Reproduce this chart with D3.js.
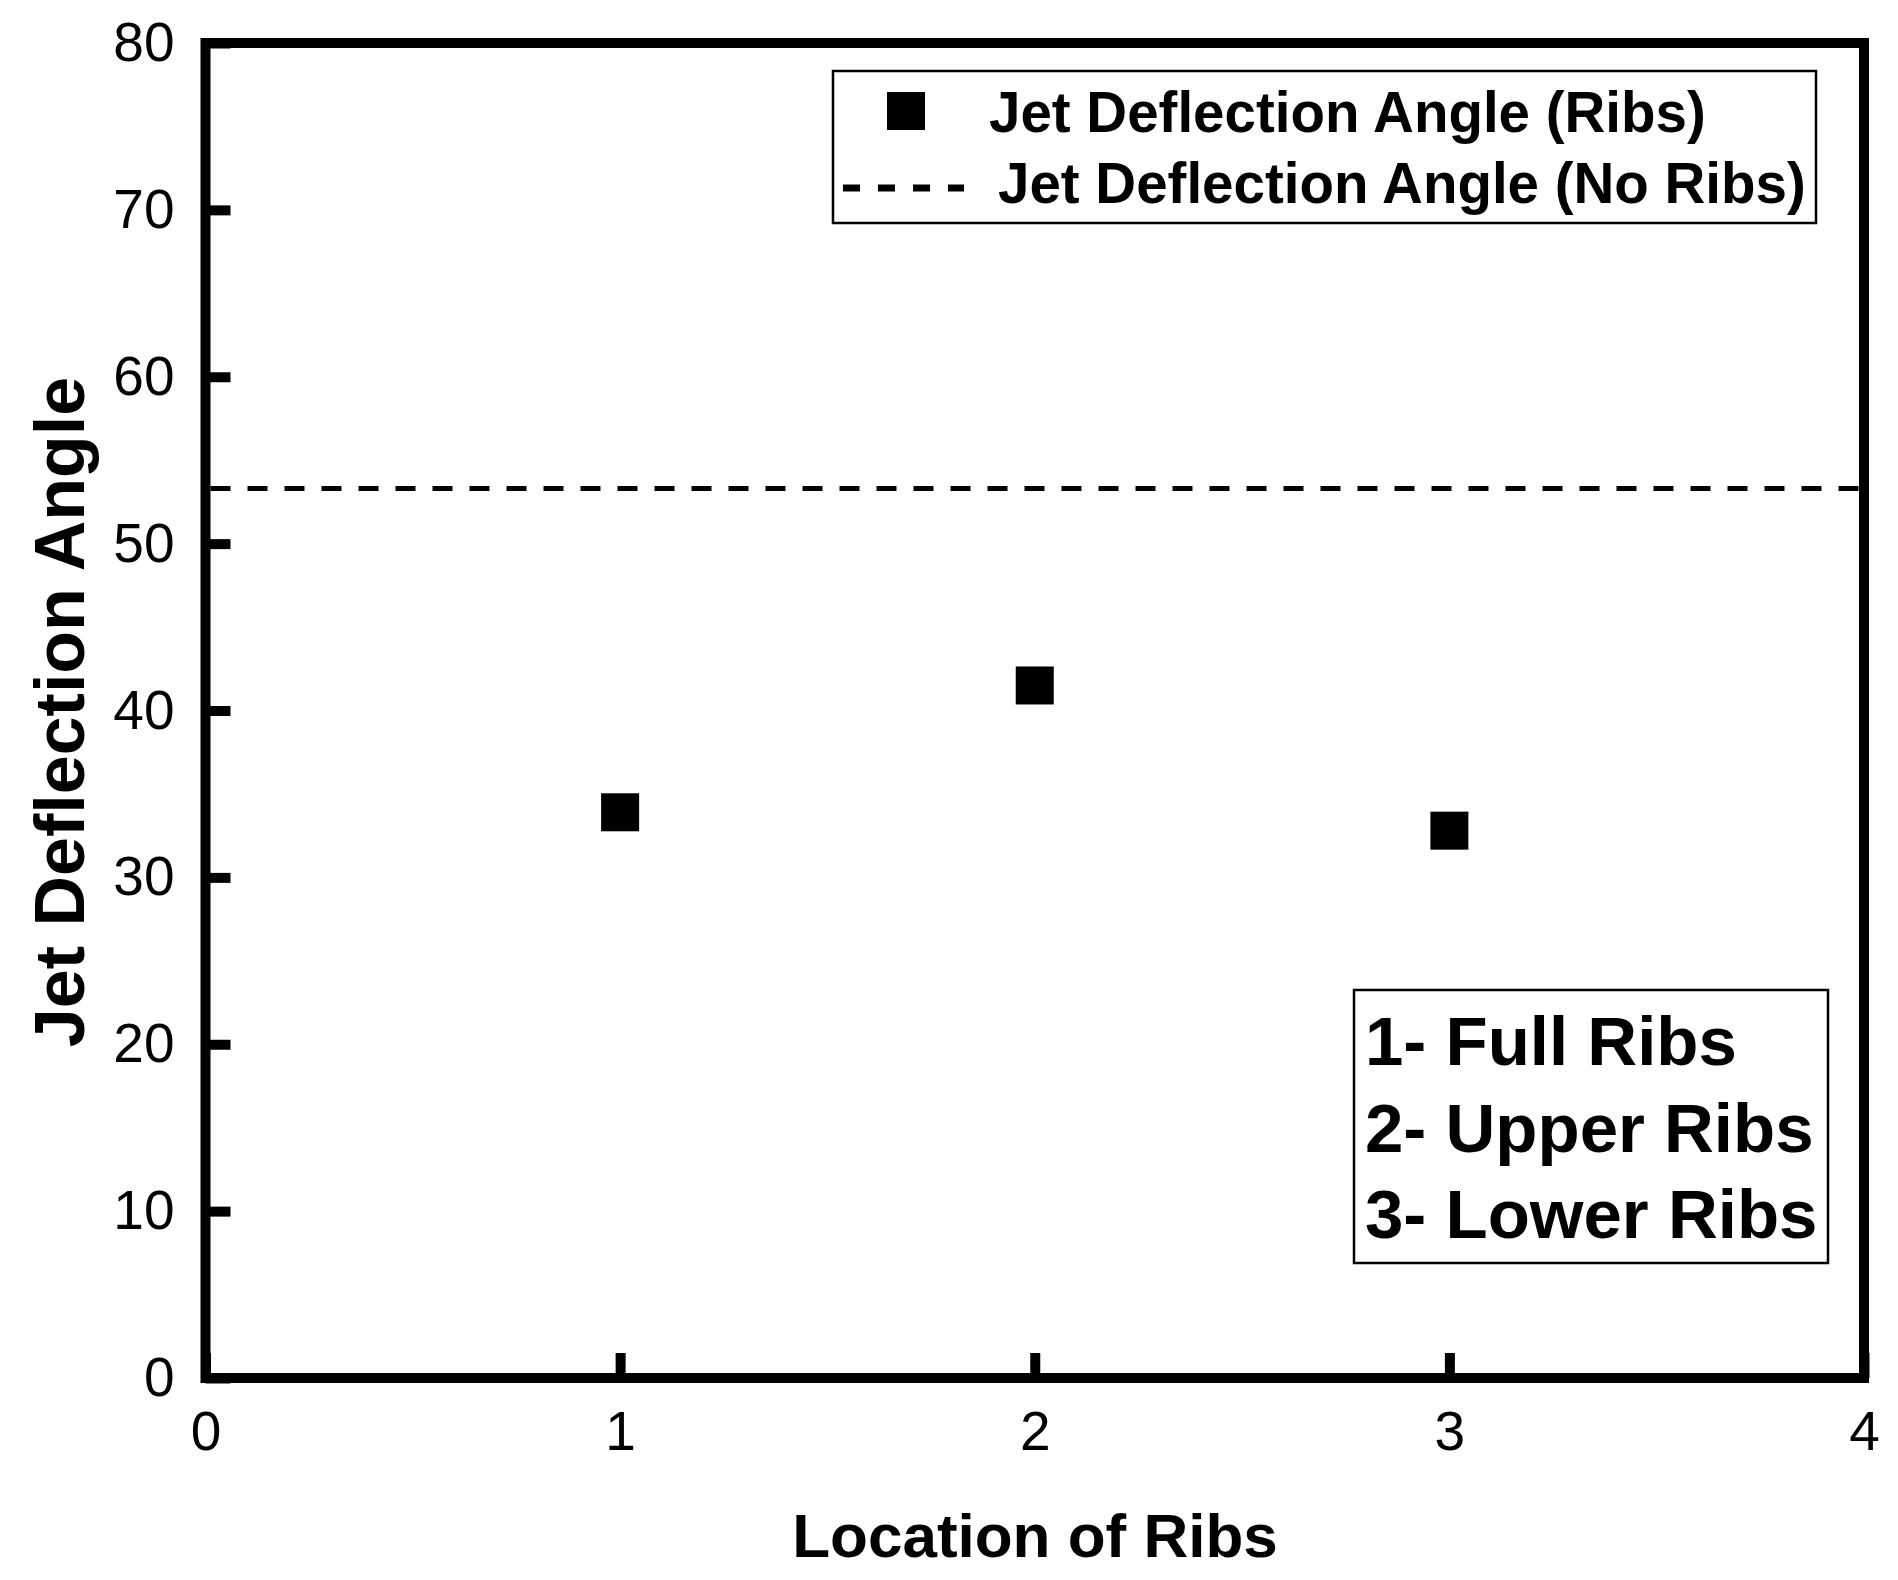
<!DOCTYPE html>
<html>
<head>
<meta charset="utf-8">
<script src="https://cdn.jsdelivr.net/npm/d3@7.9.0/dist/d3.min.js"></script>
<style>
  body { margin: 0; background: #fff; }
  svg { display: block; font-family: "Liberation Sans", Arial, sans-serif; }
</style>
</head>
<body>
<svg id="chart" width="1898" height="1580"></svg>
<script>
/* data */
const locations = [1, 2, 3];
const angles = [33.9, 41.5, 32.8];        // jet deflection angle with ribs
const noRibsAngle = 53.3;                  // reference value without ribs
const xTicks = [0, 1, 2, 3, 4];
const yTicks = [0, 10, 20, 30, 40, 50, 60, 70, 80];
const legendLabels = ['Jet Deflection Angle (Ribs)', 'Jet Deflection Angle (No Ribs)'];
const locationNotes = ['1- Full Ribs', '2- Upper Ribs', '3- Lower Ribs'];

let svg = d3.select('#chart');

let x = d3.scaleLinear().domain([0, 4]).range([205.5, 1864]);
let y = d3.scaleLinear().domain([0, 80]).range([1378, 43]);

/* axes, ticks pointing inwards */
let yAxis = svg.append('g')
    .attr('transform', `translate(${x(0)},0)`)
    .call(d3.axisLeft(y).tickValues(yTicks).tickSize(-25).tickPadding(31).tickFormat(d3.format('d')));
let xAxis = svg.append('g')
    .attr('transform', `translate(0,${y(0)})`)
    .call(d3.axisBottom(x).tickValues(xTicks).tickSize(-25).tickPadding(33).tickFormat(d3.format('d')));

[xAxis, yAxis].forEach((ax) => {
    ax.select('.domain').remove();
    ax.selectAll('.tick line').attr('stroke', '#000').attr('stroke-width', 10);
    ax.selectAll('.tick text')
        .attr('fill', '#000')
        .attr('font-size', 55)
        .attr('font-family', '"Liberation Sans", Arial, sans-serif');
});

// frame around the plot
svg.append('rect')
    .attr('x', x(0)).attr('y', y(80))
    .attr('width', x(4) - x(0)).attr('height', y(0) - y(80))
    .attr('fill', 'none').attr('stroke', '#000').attr('stroke-width', 10);

/* no ribs reference line */
svg.append('line')
    .attr('x1', x(0) + 5).attr('x2', x(4) - 5)
    .attr('y1', y(noRibsAngle)).attr('y2', y(noRibsAngle))
    .attr('stroke', '#000').attr('stroke-width', 5)
    .attr('stroke-dasharray', '20,17');

/* square markers */
let size = 38;
svg.selectAll('rect.pt')
    .data(locations)
    .join('rect')
    .attr('class', 'pt')
    .attr('x', (d) => x(d) - size / 2)
    .attr('y', (d, i) => y(angles[i]) - size / 2)
    .attr('width', size).attr('height', size)
    .attr('fill', '#000');

/* axis titles */
svg.append('text')
    .attr('x', 1035).attr('y', 1557)
    .attr('text-anchor', 'middle')
    .attr('font-size', 62).attr('font-weight', 'bold')
    .text('Location of Ribs');

svg.append('text')
    .attr('transform', 'translate(84,712) rotate(-90)')
    .attr('text-anchor', 'middle')
    .attr('font-size', 70).attr('font-weight', 'bold')
    .text('Jet Deflection Angle');

/* series legend */
let legend = svg.append('g');
legend.append('rect')
    .attr('x', 833).attr('y', 71).attr('width', 983).attr('height', 152)
    .attr('fill', '#fff').attr('stroke', '#000').attr('stroke-width', 2.5);
legend.append('rect')
    .attr('x', 906 - size / 2).attr('y', 111 - size / 2)
    .attr('width', size).attr('height', size).attr('fill', '#000');
legend.append('line')
    .attr('x1', 843).attr('x2', 964).attr('y1', 188).attr('y2', 188)
    .attr('stroke', '#000').attr('stroke-width', 7)
    .attr('stroke-dasharray', '17,18');
legend.selectAll('text')
    .data(legendLabels)
    .join('text')
    .attr('x', (d, i) => i == 0 ? 989 : 998)
    .attr('y', (d, i) => i == 0 ? 132 : 203)
    .attr('font-size', 56.5).attr('font-weight', 'bold')
    .text((d) => d);

/* notes box for the locations */
let notes = svg.append('g');
notes.append('rect')
    .attr('x', 1354).attr('y', 990).attr('width', 474).attr('height', 273)
    .attr('fill', '#fff').attr('stroke', '#000').attr('stroke-width', 2.5);
notes.selectAll('text')
    .data(locationNotes)
    .join('text')
    .attr('x', 1365)
    .attr('y', (d, i) => 1065 + i * 86.5)
    .attr('font-size', 69).attr('font-weight', 'bold')
    .text((d) => d);
</script>
</body>
</html>
